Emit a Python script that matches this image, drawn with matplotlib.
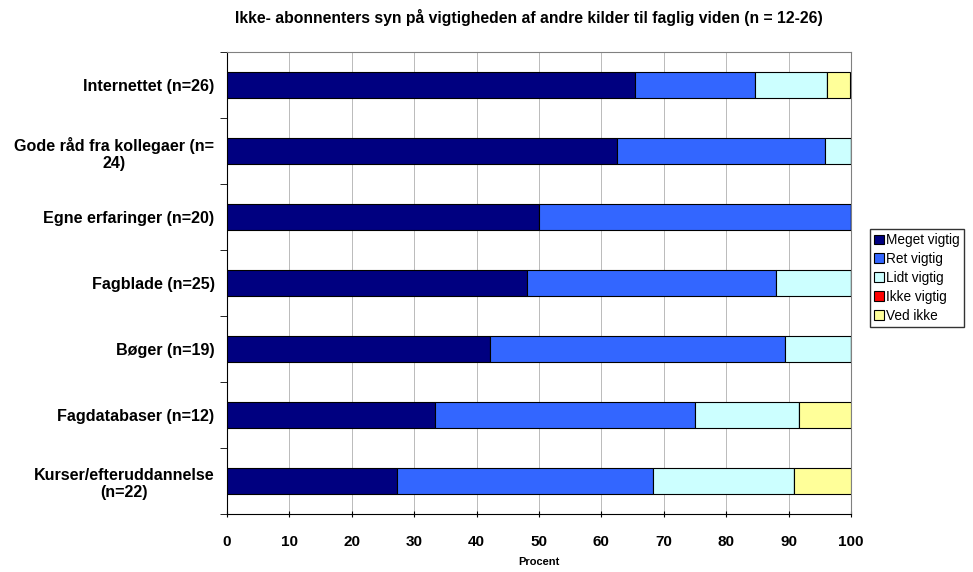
import numpy as np
import matplotlib.pyplot as plt
from matplotlib.patches import Patch

plt.rcParams['font.family'] = ['Liberation Sans', 'DejaVu Sans']

categories = ['Internettet (n=26)', 'Gode råd fra kollegaer (n=\n24)', 'Egne erfaringer (n=20)',
              'Fagblade (n=25)', 'Bøger (n=19)', 'Fagdatabaser (n=12)',
              'Kurser/efteruddannelse\n(n=22)']
series = ['Meget vigtig', 'Ret vigtig', 'Lidt vigtig', 'Ikke vigtig', 'Ved ikke']
colors = ['#000080', '#3366FF', '#CCFFFF', '#FF0000', '#FFFF99']

meget = [65.4, 62.5, 50.0, 48.0, 42.1, 33.3, 27.3]
ret = [19.2, 33.3, 50.0, 40.0, 47.4, 41.7, 40.9]
lidt = [11.5, 4.2, 0.0, 12.0, 10.5, 16.7, 22.7]
ikke = [0, 0, 0, 0, 0, 0, 0]
ved_ikke = [3.8, 0.0, 0.0, 0.0, 0.0, 8.3, 9.1]

values = [meget, ret, lidt, ikke, ved_ikke]

fig = plt.figure(figsize=(9.73, 5.72), dpi=100)
ax = fig.add_axes([227/973, 1-514/572, (851-227)/973, (514-52)/572])

y = np.arange(len(categories))
left = np.zeros(len(categories))
for name, vals, c in zip(series, values, colors):
    vals = np.array(vals)
    ax.barh(y, vals, left=left, height=0.4, color=c, edgecolor='black', linewidth=0.8, zorder=3)
    left += vals

ax.set_xlim(0, 100)
ax.set_ylim(len(categories) - 0.5, -0.5)
ax.set_xticks(np.arange(0, 101, 10))
ax.xaxis.grid(True, color='#a0a0a0', linewidth=0.5, zorder=0)
ax.set_yticks(y)
ax.set_yticklabels(categories, fontsize=11.6, fontweight='bold', ha='right', multialignment='center')
ax.tick_params(axis='y', length=0, pad=9)
ax.set_yticks(np.arange(-0.5, len(categories)), minor=True)
ax.tick_params(axis='y', which='minor', length=5, direction='out')
ax.tick_params(axis='x', length=4, direction='inout', labelsize=11, pad=13)
for lbl in ax.get_xticklabels():
    lbl.set_fontweight('bold')
ax.set_xlabel('Procent', fontsize=8, fontweight='bold', labelpad=6)

for s in ['top', 'right']:
    ax.spines[s].set_color('#808080')
for s in ['left', 'bottom']:
    ax.spines[s].set_color('black')

handles = [Patch(facecolor=c, edgecolor='black', linewidth=0.8) for c in colors]
fig.legend(handles, series, loc='upper left', bbox_to_anchor=(870/973, 1-229/572),
           fontsize=9.8, frameon=True, fancybox=False, edgecolor='black',
           handlelength=0.7, handleheight=0.7, handletextpad=0.2, labelspacing=0.36,
           borderpad=0.3, borderaxespad=0)

fig.text(529/973, 1-17/572, 'Ikke- abonnenters syn på vigtigheden af andre kilder til faglig viden (n = 12-26)',
         ha='center', va='center', fontsize=11.3, fontweight='bold')

fig.savefig('out.png', dpi=100)
